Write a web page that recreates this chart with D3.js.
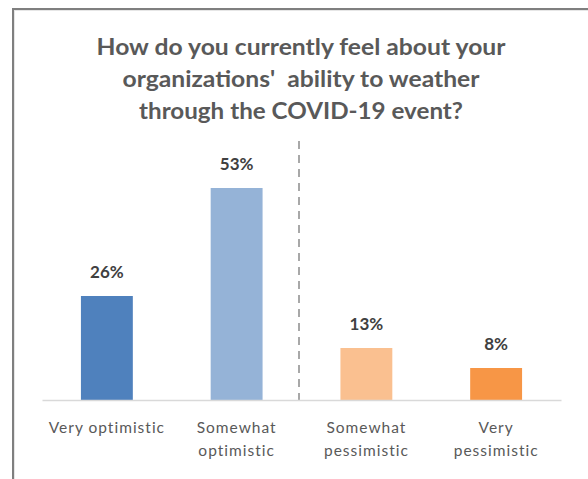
<!DOCTYPE html>
<html>
<head>
<meta charset="utf-8">
<script src="https://cdn.jsdelivr.net/npm/d3@7"></script>
<style>
  html, body { margin: 0; padding: 0; background: #ffffff; }
  svg { display: block; }
</style>
</head>
<body>
<svg id="chart" width="588" height="479"></svg>
<script>
// Survey responses: outlook on weathering the COVID-19 event
const categories = ["Very optimistic", "Somewhat optimistic", "Somewhat pessimistic", "Very pessimistic"];
const labelLines = [["Very optimistic"], ["Somewhat", "optimistic"], ["Somewhat", "pessimistic"], ["Very", "pessimistic"]];
const values = [26, 53, 13, 8];
const barColors = ["#4f81bd", "#95b3d7", "#fac090", "#f79646"];
const titleLines = [
  "How do you currently feel about your",
  "organizations'  ability to weather",
  "through the COVID-19 event?"
];

const svg = d3.select("#chart");
const W = 588, H = 479;

// chart frame
svg.append("rect")
  .attr("x", 13).attr("y", 9)
  .attr("width", W + 10).attr("height", H + 10)
  .attr("fill", "#ffffff")
  .attr("stroke", "#7f7f7f")
  .attr("stroke-width", 2);
svg.append("rect")
  .attr("x", 14.5).attr("y", 10.5)
  .attr("width", W + 10).attr("height", H + 10)
  .attr("fill", "none")
  .attr("stroke", "#e6e6e6")
  .attr("stroke-width", 1);

// title
const titleWidths = [409, 357, 324];
svg.append("g")
  .selectAll("text")
  .data(titleLines)
  .join("text")
  .attr("x", 301)
  .attr("y", (d, i) => 55 + i * 32)
  .attr("text-anchor", "middle")
  .attr("textLength", (d, i) => titleWidths[i])
  .attr("lengthAdjust", "spacingAndGlyphs")
  .attr("font-family", "Lato, 'Open Sans', sans-serif")
  .attr("font-weight", "bold")
  .attr("font-size", 22)
  .attr("fill", "#595959")
  .style("white-space", "pre")
  .text(d => d);

// scales
const x = d3.scaleBand()
  .domain(categories)
  .range([42, 561])
  .paddingInner(0.6)
  .paddingOuter(0.3);

const y = d3.scaleLinear()
  .domain([0, 60])
  .range([400, 160]);

// divider between optimistic and pessimistic groups
const divX = (x(categories[1]) + x.bandwidth() + x(categories[2])) / 2 - 2.5;
svg.append("line")
  .attr("x1", divX).attr("x2", divX)
  .attr("y1", 141).attr("y2", y(0))
  .attr("stroke", "#8c8c8c")
  .attr("stroke-width", 1.5)
  .attr("stroke-dasharray", "8,6");

// bars
svg.append("g")
  .selectAll("rect")
  .data(values)
  .join("rect")
  .attr("x", (d, i) => x(categories[i]))
  .attr("y", d => y(d))
  .attr("width", x.bandwidth())
  .attr("height", d => y(0) - y(d))
  .attr("fill", (d, i) => barColors[i]);

// value labels
svg.append("g")
  .selectAll("text")
  .data(values)
  .join("text")
  .attr("x", (d, i) => x(categories[i]) + x.bandwidth() / 2)
  .attr("y", d => y(d) - 18)
  .attr("text-anchor", "middle")
  .attr("font-family", "Lato, 'Open Sans', sans-serif")
  .attr("font-weight", "bold")
  .attr("font-size", 17)
  .attr("fill", "#404040")
  .text(d => d + "%");

// category axis
const axis = svg.append("g")
  .attr("transform", `translate(0,${y(0)})`)
  .call(d3.axisBottom(x).tickSize(0).tickFormat(""));
axis.select(".domain").attr("stroke", "#d9d9d9").attr("stroke-width", 1.5);

const catLabels = svg.append("g")
  .selectAll("text")
  .data(categories)
  .join("text")
  .attr("x", d => x(d) + x.bandwidth() / 2)
  .attr("y", 433)
  .attr("text-anchor", "middle")
  .attr("font-family", "Lato, 'Open Sans', sans-serif")
  .attr("font-size", 15.5)
  .attr("letter-spacing", 1)
  .attr("fill", "#595959");

catLabels.each(function(d, i) {
  d3.select(this).selectAll("tspan")
    .data(labelLines[i])
    .join("tspan")
    .attr("x", x(d) + x.bandwidth() / 2)
    .attr("dy", (t, j) => j === 0 ? 0 : 23)
    .text(t => t);
});
</script>
</body>
</html>
